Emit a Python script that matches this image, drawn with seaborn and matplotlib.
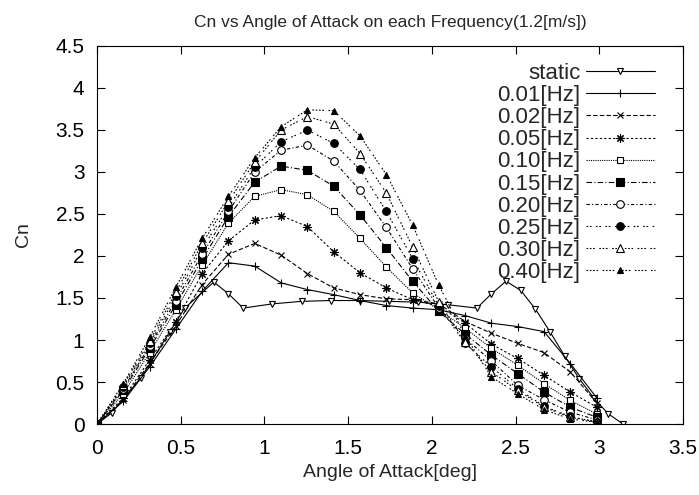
import numpy as np
import matplotlib
matplotlib.use("Agg")
import matplotlib.pyplot as plt
import seaborn as sns

# angles for the oscillating runs (pi/20 steps) and for the static run
angle = [0.000, 0.157, 0.314, 0.471, 0.628, 0.785, 0.942, 1.100, 1.257, 1.414,
         1.571, 1.728, 1.885, 2.042, 2.199, 2.356, 2.513, 2.670, 2.827, 2.985]
angle_static = [0.000, 0.087, 0.262, 0.436, 0.524, 0.698, 0.785, 0.873, 1.047,
                1.222, 1.396, 1.571, 1.745, 1.920, 2.094, 2.269, 2.356, 2.443,
                2.531, 2.618, 2.705, 2.793, 2.880, 2.967, 3.054, 3.142]

cn_static = [0, 0.13, 0.55, 1.10, 1.38, 1.69, 1.55, 1.38, 1.43, 1.46, 1.47, 1.47,
             1.46, 1.45, 1.42, 1.38, 1.55, 1.70, 1.59, 1.37, 1.10, 0.81, 0.54,
             0.31, 0.12, 0.0]
cn_001 = [0, 0.27, 0.68, 1.13, 1.58, 1.92, 1.88, 1.68, 1.60, 1.54, 1.47, 1.41,
          1.38, 1.36, 1.29, 1.20, 1.16, 1.10, 0.72, 0.31]
cn_002 = [0, 0.29, 0.72, 1.17, 1.66, 2.02, 2.15, 2.01, 1.79, 1.62, 1.54, 1.49,
          1.48, 1.43, 1.22, 1.08, 0.96, 0.85, 0.62, 0.25]
cn_005 = [0, 0.31, 0.76, 1.22, 1.79, 2.18, 2.43, 2.48, 2.35, 2.05, 1.80, 1.62,
          1.48, 1.40, 1.20, 0.95, 0.78, 0.58, 0.38, 0.20]
cn_010 = [0, 0.36, 0.85, 1.36, 1.89, 2.39, 2.71, 2.79, 2.73, 2.53, 2.21, 1.87,
          1.56, 1.36, 1.14, 0.90, 0.70, 0.48, 0.28, 0.12]
cn_015 = [0, 0.40, 0.90, 1.42, 1.96, 2.47, 2.88, 3.07, 3.02, 2.83, 2.49, 2.10,
          1.70, 1.34, 1.07, 0.82, 0.60, 0.38, 0.20, 0.08]
cn_020 = [0, 0.42, 0.93, 1.47, 2.02, 2.53, 3.00, 3.26, 3.32, 3.13, 2.78, 2.34,
          1.85, 1.38, 1.02, 0.75, 0.46, 0.29, 0.14, 0.05]
cn_025 = [0, 0.44, 0.96, 1.52, 2.09, 2.58, 3.06, 3.36, 3.50, 3.34, 3.03, 2.53,
          1.97, 1.40, 0.96, 0.68, 0.42, 0.21, 0.09, 0.02]
cn_030 = [0, 0.46, 0.99, 1.57, 2.15, 2.65, 3.12, 3.50, 3.66, 3.57, 3.22, 2.75,
          2.11, 1.45, 0.98, 0.62, 0.40, 0.20, 0.08, 0.03]
cn_040 = [0, 0.48, 1.03, 1.63, 2.21, 2.71, 3.17, 3.54, 3.74, 3.73, 3.43, 2.97,
          2.37, 1.65, 1.05, 0.56, 0.36, 0.17, 0.06, 0.02]

labels = ["static", "0.01[Hz]", "0.02[Hz]", "0.05[Hz]", "0.10[Hz]", "0.15[Hz]",
          "0.20[Hz]", "0.25[Hz]", "0.30[Hz]", "0.40[Hz]"]

sns.set_style("ticks")
plt.rcParams["font.family"] = ["Liberation Sans", "DejaVu Sans"]

fig = plt.figure(figsize=(6.99, 4.95), dpi=100)
ax = fig.add_axes([97 / 699, 1 - 424 / 495, 586 / 699, 378 / 495])

# (x, y, marker, filled, linestyle, size)
series = [
    (angle_static, cn_static, "v", False, "-", 5),
    (angle, cn_001, "+", True, "-", 6),
    (angle, cn_002, "x", True, (0, (4, 2)), 5),
    (angle, cn_005, (8, 2, 0), True, (0, (2, 2)), 6),
    (angle, cn_010, "s", False, (0, (1, 1)), 5),
    (angle, cn_015, "s", True, (0, (5, 2, 1, 2)), 5.5),
    (angle, cn_020, "o", False, (0, (3, 2, 1, 2)), 5.5),
    (angle, cn_025, "o", True, (0, (1.5, 1.5, 1.5, 4)), 5.5),
    (angle, cn_030, "^", False, (0, (1.5, 1.5, 1.5, 1.5, 1.5, 4)), 5.5),
    (angle, cn_040, "^", True, (0, (1.5, 1.5, 1.5, 1.5, 1.5, 1.5, 1.5, 4)), 5),
]

for (xs, ys, mk, filled, ls, ms), lab in zip(series, labels):
    sns.lineplot(x=xs, y=ys, ax=ax, color="black", linewidth=0.8, linestyle=ls,
                 marker=mk, markersize=ms, markeredgecolor="black",
                 markerfacecolor="black" if filled else "white",
                 markeredgewidth=0.8, label=lab, sort=False)

ax.set_xlim(0, 3.5)
ax.set_ylim(0, 4.5)
ax.set_xticks(np.arange(0, 3.51, 0.5))
ax.set_yticks(np.arange(0, 4.51, 0.5))
ax.set_xticklabels(["0", "0.5", "1", "1.5", "2", "2.5", "3", "3.5"])
ax.set_yticklabels(["0", "0.5", "1", "1.5", "2", "2.5", "3", "3.5", "4", "4.5"])
ax.tick_params(direction="in", top=True, right=True, length=6, width=0.8,
               labelsize=15, pad=9, colors="black")
ax.tick_params(axis="x", pad=11)
for sp in ax.spines.values():
    sp.set_linewidth(0.8)
    sp.set_color("black")

ax.set_xlabel("Angle of Attack[deg]", fontsize=14, labelpad=4)
ax.set_ylabel("Cn", fontsize=14, labelpad=17)
ax.set_title("Cn vs Angle of Attack on each Frequency(1.2[m/s])", fontsize=12.5, pad=14)

ax.legend(loc="upper right", bbox_to_anchor=(0.952, 0.955), markerfirst=False,
          frameon=False, fontsize=16, handlelength=3.1, handletextpad=0.25,
          labelspacing=0.05, borderpad=0, borderaxespad=0)

fig.savefig("out.png", dpi=100)
